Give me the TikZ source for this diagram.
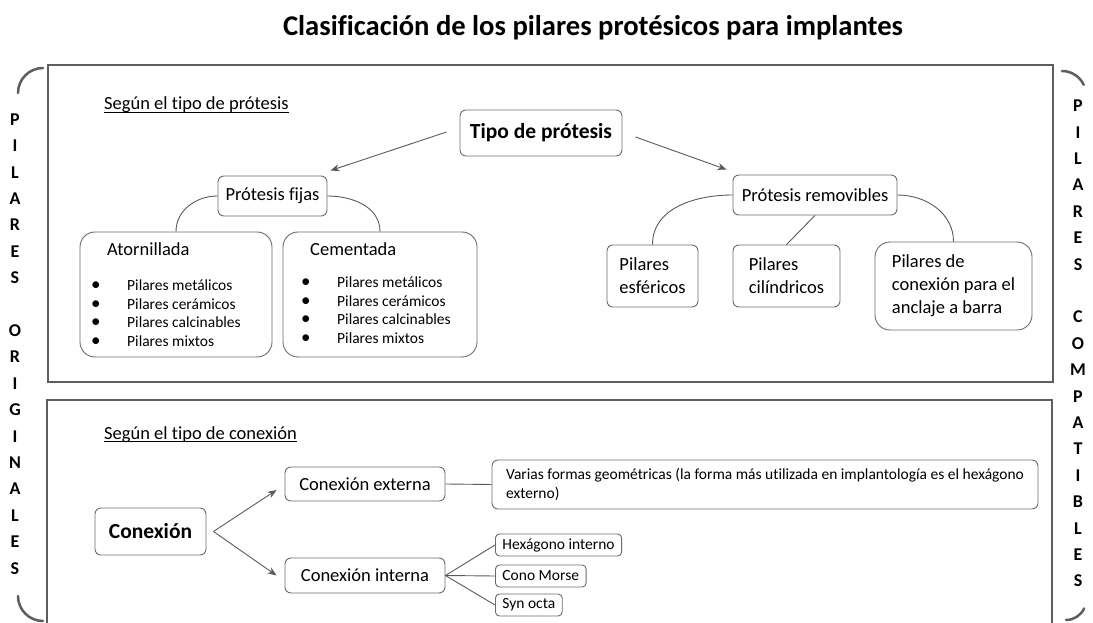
\documentclass[tikz,border=0pt]{standalone}
\usepackage{fontspec}
\setmainfont{Carlito}[Ligatures=NoCommon]
\usetikzlibrary{arrows.meta}
\definecolor{framegray}{HTML}{5E5E5E}
\definecolor{boxgray}{HTML}{6B6B6B}
\definecolor{linegray}{HTML}{5A5A5A}
\newcommand{\fsz}[2]{\fontsize{#1}{#2}\selectfont}
\newcommand{\bitem}[1]{\makebox[36pt][l]{\raisebox{0pt}[0pt][0pt]{\fsz{19}{18.5}\textbullet}}#1}
\tikzset{
  box/.style={draw=boxgray, line width=0.9pt, rounded corners=6pt, inner sep=0pt, align=center, font=\fsz{18.5}{23}},
  bigbox/.style={box, rounded corners=15pt},
  smallbox/.style={draw=boxgray, line width=0.9pt, rounded corners=4pt, inner xsep=7pt, inner ysep=0pt, minimum height=22pt, anchor=west, font=\fsz{15.5}{18.5}},
  conn/.style={draw=linegray, line width=0.9pt},
  arr/.style={conn, -{Stealth[length=9pt,width=7pt]}},
  frame/.style={draw=framegray, line width=2pt},
  brack/.style={draw=framegray, line width=2.5pt, line cap=round},
  txt/.style={inner sep=0pt, font=\fsz{18.5}{23}},
  listtxt/.style={inner sep=0pt, align=left, anchor=west, font=\fsz{15.5}{18.5}},
  sideletters/.style={inner sep=0pt, align=center, font=\fsz{18}{26.4}\bfseries}
}
\begin{document}
\begin{tikzpicture}[x=1pt,y=1pt]
\useasboundingbox (0,0) rectangle (1093,-623);
% title
\node[inner sep=0pt, anchor=base, font=\fsz{28.6}{32}\bfseries] (title) at (593,-36) {Clasificación de los pilares protésicos para implantes};
% frames
\draw[frame] (48,-65) rectangle (1053,-382);
\draw[frame] (47,-623) -- (47,-400) -- (1052,-400) -- (1052,-623);
% brackets
\draw[brack] (18,-93) arc[start angle=180, end angle=90, radius=25];
\draw[brack] (18,-596) arc[start angle=180, end angle=270, radius=25];
\draw[brack] (1062,-71) arc[start angle=90, end angle=25, radius=24];
\draw[brack] (1066,-620) arc[start angle=-90, end angle=-25, radius=20];
% side letters
\node[sideletters] (leftlbl) at (15,-344) {P\\I\\L\\A\\R\\E\\S\\[26.4pt]O\\R\\I\\G\\I\\N\\A\\L\\E\\S};
\node[sideletters] (rightlbl) at (1078,-343.5) {P\\I\\L\\A\\R\\E\\S\\[26.4pt]C\\O\\M\\P\\A\\T\\I\\B\\L\\E\\S};

% ---------- top section
\node[txt, anchor=base west] (sec1) at (104,-110) {Según el tipo de prótesis};
\draw[line width=0.9pt] ([yshift=-2.6pt]sec1.base west) -- ([yshift=-2.6pt]sec1.base east);

\node[box, font=\fsz{21.5}{25}\bfseries, minimum width=162pt, minimum height=46pt] (tipo) at (541,-133) {Tipo de prótesis};
\node[box, minimum width=109pt, minimum height=40pt] (fijas) at (272.5,-196) {Prótesis fijas};
\node[box, minimum width=164pt, minimum height=40pt] (remov) at (815,-195) {Prótesis removibles};

\draw[arr] ([shift={(-13pt,1pt)}]tipo.west) -- ([shift={(3pt,5pt)}]fijas.north east);
\draw[arr] ([shift={(13pt,-4pt)}]tipo.east) -- ([shift={(-6pt,5pt)}]remov.north west);

\node[bigbox, minimum width=192pt, minimum height=125pt] (ator) at (176,-294.5) {};
\node[bigbox, minimum width=194pt, minimum height=125pt] (cem) at (380,-294.5) {};
\node[txt, anchor=west] (atorT) at (107,-249) {Atornillada};
\node[txt, anchor=west] (cemT) at (310,-249) {Cementada};
\node[listtxt] (atorL) at (91,-313) {\bitem{Pilares metálicos}\\\bitem{Pilares cerámicos}\\\bitem{Pilares calcinables}\\\bitem{Pilares mixtos}};
\node[listtxt] (cemL) at (301,-310) {\bitem{Pilares metálicos}\\\bitem{Pilares cerámicos}\\\bitem{Pilares calcinables}\\\bitem{Pilares mixtos}};

\draw[conn] (fijas.west) to[out=180, in=90] (ator.north);
\draw[conn] (fijas.east) to[out=0, in=90] (cem.north);

\node[box, align=left, minimum width=91pt, minimum height=62pt] (esf) at (652.5,-276) {Pilares\\esféricos};
\node[box, align=left, minimum width=107pt, minimum height=62pt] (cil) at (786.5,-276) {Pilares\\cilíndricos};
\node[bigbox, align=left, minimum width=157pt, minimum height=88pt] (barra) at (953.5,-286) {Pilares de\\conexión para el\\anclaje a barra};

\draw[conn] (remov.west) to[out=180, in=90] (esf.north);
\draw[conn] (remov.south) -- (cil.north);
\draw[conn] (remov.east) to[out=0, in=90] (barra.north);

% ---------- bottom section
\node[txt, anchor=base west] (sec2) at (104,-439) {Según el tipo de conexión};
\draw[line width=0.9pt] ([yshift=-2.6pt]sec2.base west) -- ([yshift=-2.6pt]sec2.base east);

\node[box, font=\fsz{21.5}{25}\bfseries, minimum width=111pt, minimum height=47pt] (conex) at (150.5,-531.5) {Conexión};
\node[box, minimum width=160pt, minimum height=34pt] (ext) at (365,-484) {Conexión externa};
\node[box, minimum width=160pt, minimum height=35pt] (int) at (365,-575.5) {Conexión interna};

\coordinate (split) at ([xshift=7pt]conex.east);
\draw[arr] (split) -- ([shift={(-8pt,-6pt)}]ext.west);
\draw[arr] (split) -- ([xshift=-8pt]int.west);

\node[box, align=left, font=\fsz{15.5}{19.5}, minimum width=546pt, minimum height=49pt] (varias) at (765,-484.5) {Varias formas geométricas (la forma más utilizada en implantología es el hexágono\\externo)};
\draw[conn] (ext.east) -- (varias.west);

\node[smallbox] (hex) at (495,-545) {Hexágono interno};
\node[smallbox] (cono) at (495,-576) {Cono Morse};
\node[smallbox] (syn) at (495,-605) {Syn octa};
\draw[conn] (int.east) -- (hex.west);
\draw[conn] (int.east) -- (cono.west);
\draw[conn] (int.east) -- (syn.west);
\end{tikzpicture}
\end{document}
